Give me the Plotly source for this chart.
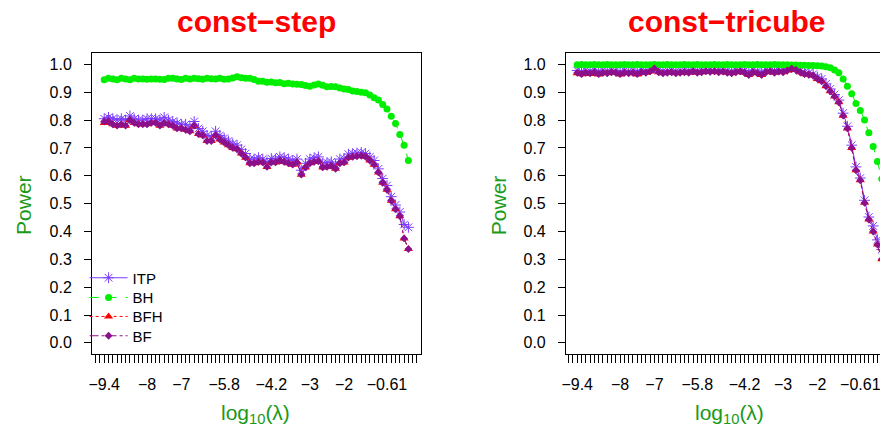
import plotly.graph_objects as go

# x positions: index of each lambda value on the grid
idx = list(range(72))
tick_idx = [0, 10, 18, 28, 39, 48, 56, 66]
tick_lab = ["\u22129.4", "\u22128", "\u22127", "\u22125.8", "\u22124.2", "\u22123", "\u22122", "\u22120.61"]

series_names = ["ITP", "BH", "BFH", "BF"]

# ---- const-step (left) ----
step_ITP = [0.805,0.81,0.805,0.80,0.805,0.80,0.815,0.805,0.80,0.80,0.805,0.805,0.805,0.80,0.81,0.80,0.795,0.79,0.785,0.785,
            0.775,0.795,0.77,0.76,0.745,0.74,0.76,0.745,0.735,0.725,0.715,0.71,0.695,0.68,0.66,0.66,0.665,0.66,0.65,0.662,
            0.66,0.668,0.665,0.66,0.655,0.66,0.62,0.645,0.66,0.665,0.668,0.645,0.648,0.65,0.64,0.66,0.662,0.678,0.68,0.682,
            0.684,0.68,0.668,0.655,0.625,0.59,0.565,0.525,0.495,0.47,0.425,0.415]
step_BH = [0.945,0.95,0.948,0.945,0.95,0.948,0.945,0.95,0.948,0.948,0.947,0.948,0.948,0.947,0.946,0.95,0.95,0.948,0.946,0.95,
           0.948,0.95,0.949,0.947,0.95,0.949,0.948,0.95,0.947,0.948,0.951,0.956,0.952,0.95,0.95,0.946,0.94,0.94,0.936,0.937,
           0.934,0.935,0.931,0.932,0.93,0.929,0.928,0.924,0.922,0.926,0.93,0.925,0.92,0.921,0.92,0.915,0.912,0.91,0.905,0.903,
           0.90,0.898,0.89,0.88,0.872,0.856,0.84,0.814,0.788,0.748,0.71,0.655]
step_BFH = [0.79,0.795,0.785,0.78,0.785,0.78,0.80,0.79,0.785,0.785,0.785,0.79,0.79,0.78,0.79,0.785,0.78,0.77,0.77,0.765,
            0.76,0.78,0.75,0.745,0.725,0.725,0.745,0.73,0.72,0.71,0.70,0.695,0.68,0.665,0.645,0.645,0.65,0.648,0.632,0.648,
            0.648,0.655,0.65,0.645,0.64,0.648,0.604,0.63,0.645,0.65,0.652,0.63,0.632,0.636,0.625,0.645,0.648,0.665,0.668,0.67,
            0.672,0.668,0.655,0.64,0.612,0.575,0.55,0.51,0.48,0.455,0.375,0.337]
step_BF = [0.795,0.795,0.785,0.78,0.785,0.78,0.80,0.79,0.785,0.785,0.785,0.79,0.79,0.78,0.79,0.785,0.78,0.77,0.77,0.765,
           0.76,0.78,0.75,0.745,0.725,0.725,0.745,0.73,0.72,0.71,0.70,0.695,0.68,0.665,0.645,0.645,0.65,0.648,0.632,0.648,
           0.648,0.655,0.65,0.645,0.64,0.648,0.604,0.63,0.645,0.65,0.652,0.63,0.632,0.636,0.625,0.645,0.648,0.665,0.668,0.67,
           0.672,0.668,0.655,0.64,0.612,0.575,0.55,0.51,0.48,0.455,0.375,0.337]

# ---- const-tricube (right) ----
tri_ITP = [0.978,0.975,0.978,0.976,0.98,0.974,0.978,0.976,0.98,0.978,0.974,0.978,0.976,0.978,0.974,0.98,0.978,0.982,0.988,0.98,
           0.976,0.978,0.98,0.976,0.978,0.98,0.978,0.982,0.978,0.98,0.982,0.98,0.982,0.98,0.982,0.978,0.976,0.98,0.982,0.978,
           0.972,0.98,0.976,0.972,0.98,0.982,0.978,0.982,0.98,0.984,0.99,0.985,0.978,0.972,0.97,0.965,0.955,0.948,0.93,0.912,
           0.892,0.872,0.825,0.778,0.71,0.632,0.592,0.512,0.452,0.42,0.37,0.335]
tri_BH = [0.999,1.0,0.999,0.999,1.0,0.999,0.999,1.0,0.999,0.999,0.999,1.0,0.999,0.999,1.0,0.999,0.999,0.999,1.0,0.999,
          0.999,1.0,0.999,0.999,0.999,1.0,0.999,0.999,1.0,0.999,0.999,0.999,1.0,0.999,0.999,1.0,0.999,0.999,0.999,1.0,
          0.999,0.999,1.0,0.999,0.999,0.999,1.0,0.999,0.999,0.999,0.998,0.998,0.997,0.997,0.996,0.996,0.995,0.994,0.992,0.988,
          0.98,0.97,0.948,0.922,0.895,0.86,0.835,0.80,0.755,0.705,0.651,0.589]
tri_BFH = [0.968,0.965,0.97,0.966,0.972,0.964,0.97,0.968,0.972,0.97,0.964,0.97,0.968,0.97,0.964,0.972,0.97,0.975,0.985,0.972,
           0.968,0.97,0.972,0.968,0.97,0.972,0.97,0.975,0.97,0.972,0.975,0.973,0.975,0.972,0.974,0.97,0.968,0.972,0.975,0.97,
           0.962,0.972,0.968,0.962,0.972,0.975,0.97,0.974,0.972,0.978,0.985,0.98,0.972,0.965,0.963,0.96,0.948,0.94,0.922,0.904,
           0.885,0.864,0.816,0.77,0.70,0.62,0.584,0.503,0.443,0.40,0.353,0.30]
tri_BF = [0.97,0.965,0.97,0.968,0.972,0.965,0.97,0.968,0.972,0.97,0.965,0.97,0.968,0.97,0.965,0.972,0.97,0.975,0.985,0.972,
          0.968,0.97,0.972,0.968,0.97,0.972,0.97,0.975,0.97,0.972,0.975,0.973,0.975,0.972,0.974,0.97,0.968,0.972,0.975,0.97,
          0.962,0.972,0.968,0.962,0.972,0.975,0.97,0.974,0.972,0.978,0.985,0.98,0.972,0.965,0.963,0.96,0.948,0.94,0.922,0.904,
          0.885,0.864,0.816,0.77,0.70,0.62,0.584,0.503,0.443,0.40,0.353,0.30]

y_ticks = [0.0, 0.1, 0.2, 0.3, 0.4, 0.5, 0.6, 0.7, 0.8, 0.9, 1.0]
y_labels = ["0.0", "0.1", "0.2", "0.3", "0.4", "0.5", "0.6", "0.7", "0.8", "0.9", "1.0"]

FONT = "Liberation Sans, Arial, Helvetica, sans-serif"
# the page body has an 8px margin: figure coords = page coords - 8
OFF = 8
W, H = 888 - OFF, 432 - OFF
C_ITP = "#7a3cff"
C_BH = "#00ee00"
C_BFH = "#ff0000"
C_BF = "#8b108b"
C_LAB = "#1a9a1a"

styles = {
    "ITP": dict(color=C_ITP, dash="solid", symbol="asterisk-open", size=9),
    "BH": dict(color=C_BH, dash="dash", symbol="circle", size=7),
    "BFH": dict(color=C_BFH, dash="dot", symbol="triangle-up", size=8),
    "BF": dict(color=C_BF, dash="dashdot", symbol="diamond", size=6),
}
legend_ids = {"ITP": "legend", "BH": "legend2", "BFH": "legend3", "BF": "legend4"}
legend_rows = {"ITP": 278, "BH": 297.7, "BFH": 316.7, "BF": 336}


def px_x(p):
    return (p - OFF) / W


def px_y(p):
    return 1 - (p - OFF) / H


fig = go.Figure()
panels = [
    ("x", "y", {"ITP": step_ITP, "BH": step_BH, "BFH": step_BFH, "BF": step_BF}, True),
    ("x2", "y2", {"ITP": tri_ITP, "BH": tri_BH, "BFH": tri_BFH, "BF": tri_BF}, False),
]
for xa, ya, data, show in panels:
    for name in series_names:
        st = styles[name]
        marker = dict(symbol=st["symbol"], size=st["size"], color=st["color"])
        if name == "ITP":
            marker["line"] = dict(color=st["color"], width=1)
        else:
            marker["line"] = dict(width=0)
        fig.add_trace(go.Scatter(
            x=idx, y=data[name], mode="lines+markers", name=name,
            line=dict(color=st["color"], width=1, dash=st["dash"]),
            marker=marker, xaxis=xa, yaxis=ya, showlegend=show,
            legend=legend_ids[name],
        ))

xcommon = dict(
    tickmode="array", tickvals=tick_idx, ticktext=tick_lab,
    ticks="outside", ticklen=8, tickwidth=1, tickcolor="black",
    minor=dict(tickmode="linear", tick0=0, dtick=1, ticks="outside", ticklen=8,
               tickwidth=1, tickcolor="black", showgrid=False),
    showline=True, linecolor="black", linewidth=1, mirror=True,
    showgrid=False, zeroline=False,
    tickfont=dict(family=FONT, size=16, color="black"),
    ticklabelstandoff=8,
)
ycommon = dict(
    tickmode="array", tickvals=y_ticks, ticktext=y_labels,
    range=[-0.04, 1.04],
    ticks="outside", ticklen=7, tickwidth=1, tickcolor="black",
    showline=True, linecolor="black", linewidth=1, mirror=True,
    showgrid=False, zeroline=False,
    tickfont=dict(family=FONT, size=16, color="black"),
    ticklabelstandoff=9,
)

ydom = [px_y(354), px_y(53.3)]
layout = dict(
    width=W, height=H,
    margin=dict(l=0, r=0, t=0, b=0),
    paper_bgcolor="white", plot_bgcolor="white",
    font=dict(family=FONT, size=15, color="black"),
    xaxis=dict(domain=[px_x(88.5), px_x(418.9)], range=[-2.84, 73.84], anchor="y", **xcommon),
    yaxis=dict(domain=ydom, anchor="x", **ycommon),
    xaxis2=dict(domain=[px_x(565.1), 1.0], range=[-2.63, 72.23], anchor="y2", **xcommon),
    yaxis2=dict(domain=ydom, anchor="x2", **ycommon),
    showlegend=True,
)
for name in series_names:
    layout[legend_ids[name]] = dict(
        x=px_x(81), y=px_y(legend_rows[name]), xanchor="left", yanchor="middle",
        bgcolor="rgba(0,0,0,0)", borderwidth=0,
        font=dict(family=FONT, size=15, color="black"),
        itemwidth=38, tracegroupgap=0,
    )
fig.update_layout(**layout)

ann = [
    dict(text="<b>const\u2212step</b>", x=px_x(253.7), y=px_y(21), font=dict(size=30, color="#ff0000")),
    dict(text="<b>const\u2212tricube</b>", x=px_x(727), y=px_y(21), font=dict(size=30, color="#ff0000")),
    dict(text="Power", x=px_x(20), y=px_y(205), textangle=-90, font=dict(size=21, color=C_LAB)),
    dict(text="Power", x=px_x(498), y=px_y(205), textangle=-90, font=dict(size=21, color=C_LAB)),
    dict(text="log<sub>10</sub>(\u03bb)", x=px_x(253.3), y=px_y(414), font=dict(size=21, color=C_LAB)),
    dict(text="log<sub>10</sub>(\u03bb)", x=px_x(730), y=px_y(414), font=dict(size=21, color=C_LAB)),
]
for a in ann:
    a.update(xref="paper", yref="paper", showarrow=False, xanchor="center", yanchor="middle")
    a["font"]["family"] = FONT
    fig.add_annotation(**a)

fig.write_html("out.html")
